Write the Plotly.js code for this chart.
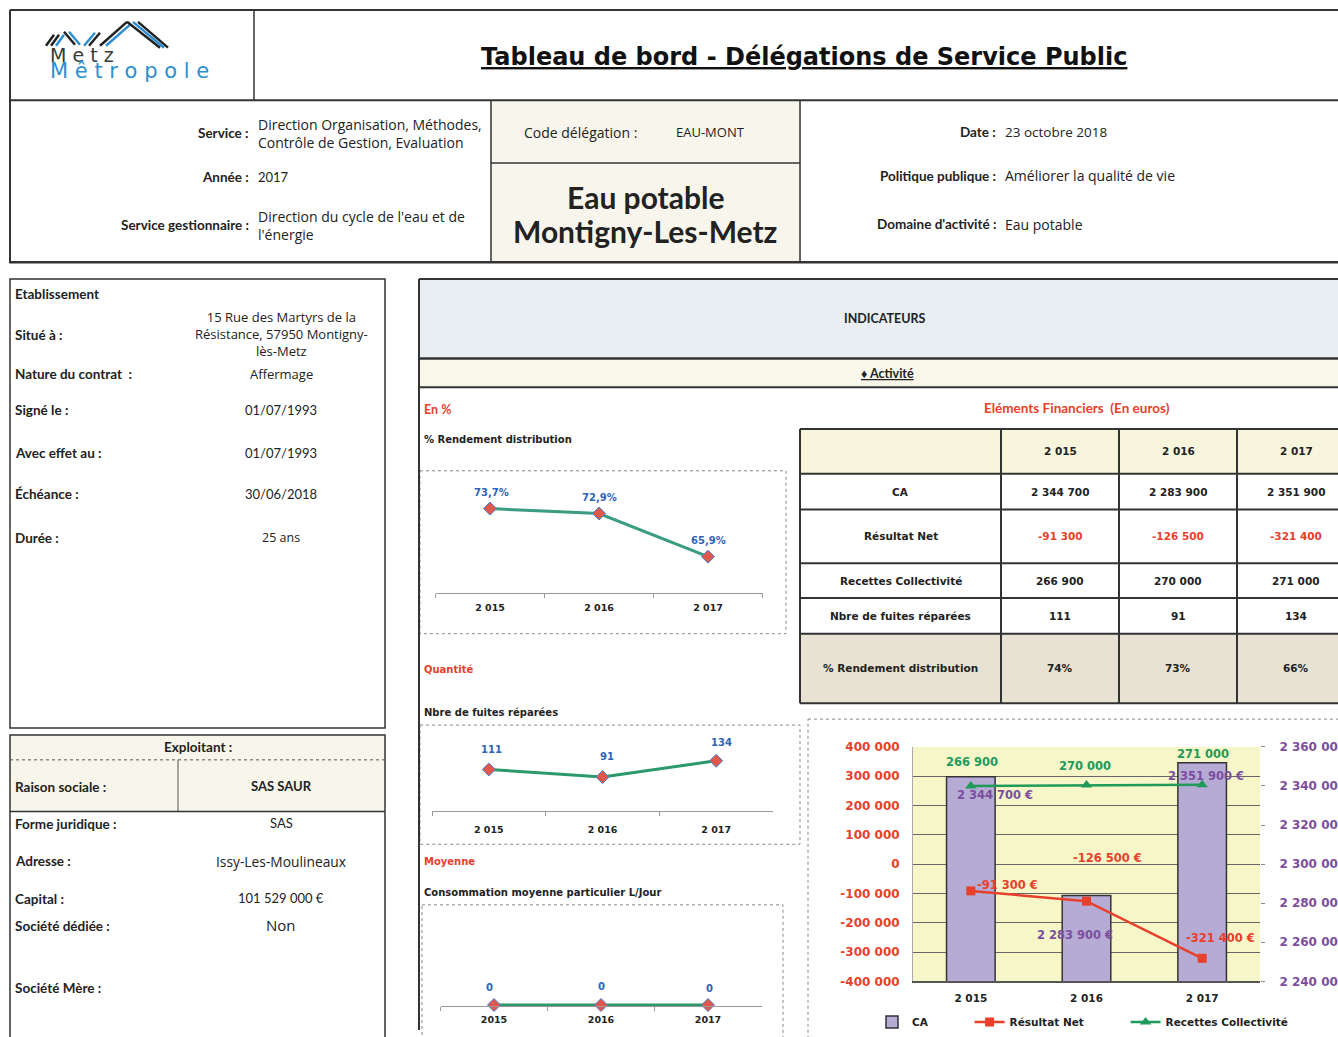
<!DOCTYPE html>
<html>
<head>
<meta charset="utf-8">
<script src="https://cdn.plot.ly/plotly-3.0.1.min.js"></script>
<style>html,body{margin:0;padding:0;background:#fff;}#page{width:1338px;height:1037px;}</style>
</head>
<body>
<div id="page"></div>
<script>
// ---------------- DATA ----------------
const years = ['2 015', '2 016', '2 017'];
const yearsPlain = ['2015', '2016', '2017'];
const rendement = [73.7, 72.9, 65.9];          // % Rendement distribution
const fuites = [111, 91, 134];                  // Nbre de fuites réparées
const conso = [0, 0, 0];                        // Consommation moyenne particulier L/Jour
const ca = [2344700, 2283900, 2351900];         // CA
const resultatNet = [-91300, -126500, -321400]; // Résultat Net
const recettes = [266900, 270000, 271000];      // Recettes Collectivité
const seriesNames = ['CA', 'Résultat Net', 'Recettes Collectivité'];
const tableRows = ['CA', 'Résultat Net', 'Recettes Collectivité', 'Nbre de fuites réparées', '% Rendement distribution'];
const leftTicks = [-400000, -300000, -200000, -100000, 0, 100000, 200000, 300000, 400000];
const rightTicks = [2240000, 2260000, 2280000, 2300000, 2320000, 2340000, 2360000];

// ---------------- HELPERS ----------------
const W = 1338, H = 1037;
const FC = 'Lato, "Open Sans", sans-serif';
const FO = '"Open Sans", Lato, sans-serif';
const FV = '"DejaVu Sans", Verdana, sans-serif';
const RED = '#e8402a', PURPLE = '#7b4ea0', GREEN = '#1f9a5a', BLUE = '#2e64b8';
const X = x => x / W, Y = y => 1 - y / H;
const fmt = n => (n < 0 ? '-' : '') + String(Math.abs(n)).replace(/\B(?=(\d{3})+(?!\d))/g, ' ');
const pct1 = v => v.toFixed(1).replace('.', ',') + '%';
const legendPad = '\u2003\u2003\u2003\u2002';

const annotations = [];
const shapes = [];
function T(x, y, text, o = {}) {
  const xa = o.xa || 'left';
  annotations.push({
    xref: 'paper', yref: 'paper', x: X(x), y: Y(y), text, showarrow: false,
    xanchor: xa, yanchor: 'middle', align: o.align || xa,
    font: { family: o.f || FC, size: o.s || 12, color: o.c || '#222' }
  });
}
function L(x0, y0, x1, y1, c = '#333', w = 1.5, dash = 'solid') {
  shapes.push({ type: 'line', xref: 'paper', yref: 'paper', x0: X(x0), y0: Y(y0), x1: X(x1), y1: Y(y1), line: { color: c, width: w, dash } });
}
function R(x0, y0, x1, y1, fill, lc, w, dash) {
  shapes.push({ type: 'rect', xref: 'paper', yref: 'paper', x0: X(x0), y0: Y(y0), x1: X(x1), y1: Y(y1), layer: 'below',
    fillcolor: fill || 'rgba(0,0,0,0)', line: { color: lc || 'rgba(0,0,0,0)', width: w || 0, dash: dash || 'solid' } });
}
const dom = (a, b) => [a / W, b / W];
const ydom = (bottom, top) => [Y(bottom), Y(top)];

// ---------------- HEADER ----------------
R(491, 101, 800, 264, '#f8f6ec');
L(10, 10, 1338, 10, '#333', 2);
L(10, 10, 10, 265, '#333', 2);
L(254, 10, 254, 101);
L(10, 101, 1338, 101, '#333', 2);
L(491, 101, 491, 264);
L(800, 101, 800, 264);
L(491, 164, 800, 164);
L(10, 264, 1338, 264, '#333', 2.5);

// logo strokes
[[46,46,54,35,'#222'],[51,46,59,35,'#222'],[56,46,64,35,'#2a8fd0'],[64,32,75,45,'#222'],[69,32,80,45,'#2a8fd0'],
 [84,46,95,33,'#2a8fd0'],[89,46,100,33,'#222'],[100,46,127,22,'#222'],[106,46,131,24,'#2a8fd0'],
 [127,22,160,48,'#222'],[133,22,164,48,'#2a8fd0'],[138,22,168,48,'#222']].forEach(s => L(s[0], s[1], s[2], s[3], s[4], 2.5));
annotations.push({ xref: 'paper', yref: 'paper', x: X(48), y: Y(64), xanchor: 'left', yanchor: 'middle', align: 'left', showarrow: false,
  text: '<span style="font-size:19px">M e t z</span><br><span style="font-size:21px;color:#2a8fd0">M ê t r o p o l e</span>',
  font: { family: FV, size: 12.5, color: '#3a3a3a' } });
T(804, 57, '<b><u>Tableau de bord - Délégations de Service Public</u></b>', { xa: 'center', f: FV, s: 24, c: '#111' });

T(251, 134, '<b>Service :</b>', { xa: 'right', s: 13.5 });
T(256, 134, 'Direction Organisation, Méthodes,<br>Contrôle de Gestion, Evaluation', { f: FO, s: 14 });
T(251, 178, '<b>Année :</b>', { xa: 'right', s: 13.5 });
T(256, 178, '2017', { s: 13 });
T(251, 227, '<b>Service gestionnaire :</b>', { xa: 'right', s: 13.5 });
T(256, 227, 'Direction du cycle de l\'eau et de<br>l\'énergie', { f: FO, s: 14 });
T(522, 133, 'Code délégation :', { f: FO, s: 14 });
T(674, 133, 'EAU-MONT', { f: FO, s: 13 });
T(645, 198, '<b>Eau potable</b>', { xa: 'center', s: 30, c: '#222' });
T(645, 233, '<b>Montigny-Les-Metz</b>', { xa: 'center', s: 30, c: '#222' });
T(998, 133, '<b>Date :</b>', { xa: 'right', s: 13.5 });
T(1003, 133, '23 octobre 2018', { f: FO, s: 13.5 });
T(998, 177, '<b>Politique publique :</b>', { xa: 'right', s: 13.5 });
T(1003, 177, 'Améliorer la qualité de vie', { f: FO, s: 14 });
T(998, 226, '<b>Domaine d\'activité :</b>', { xa: 'right', s: 13.5 });
T(1003, 226, 'Eau potable', { f: FO, s: 14 });

// ---------------- LEFT PANEL ----------------
R(10, 281, 385, 733, null, '#333', 1.5);
const lb = (y, t) => T(13, y, '<b>' + t + '</b>', { s: 13.5 });
const lv = (y, t, o) => T(281, y, t, Object.assign({ xa: 'center', f: FO, s: 13 }, o || {}));
lb(296, 'Etablissement');
lb(337, 'Situé à :'); lv(336, '15 Rue des Martyrs de la<br>Résistance, 57950 Montigny-<br>lès-Metz');
lb(377, 'Nature du contrat  :'); lv(377, 'Affermage');
lb(413, 'Signé le :'); lv(413, '01/07/1993', { f: FC, s: 13 });
lb(456, 'Avec effet au :'); lv(456, '01/07/1993', { f: FC, s: 13 });
lb(497, 'Échéance :'); lv(497, '30/06/2018', { f: FC, s: 13 });
lb(542, 'Durée :'); lv(541, '25 ans', { s: 12.5 });

R(10, 740, 385, 817, '#f8f6ea');
R(10, 740, 385, 1045, null, '#333', 1.5);
L(10, 765, 385, 765, '#555', 1, 'dot');
L(178, 765, 178, 817, '#555', 1);
L(10, 817, 385, 817, '#333', 1.5);
T(198, 752, '<b>Exploitant :</b>', { xa: 'center', s: 13.5 });
lb(792, 'Raison sociale :'); T(281, 791, '<b>SAS SAUR</b>', { xa: 'center', s: 13 });
lb(830, 'Forme juridique :'); lv(829, 'SAS', { f: FC, s: 13 });
lb(867, 'Adresse :'); lv(867, 'Issy-Les-Moulineaux', { s: 13.8 });
lb(905, 'Capital :'); lv(904, '101 529 000 €', { f: FC, s: 13 });
lb(932, 'Société dédiée :'); lv(931, 'Non', { f: FO, s: 15 });
lb(995, 'Société Mère :');

// ---------------- RIGHT PANEL ----------------
R(419, 281, 1340, 361, '#e9eef3');
R(419, 361, 1340, 390, '#f8f7ea');
L(419, 281, 1338, 281, '#333', 2);
L(419, 281, 419, 1037, '#333', 2);
L(419, 361, 1338, 361, '#333', 2.5);
L(419, 390, 1338, 390, '#333', 2);
T(885, 321, '<b>INDICATEURS</b>', { xa: 'center', s: 12.5 });
T(887, 376, '<b><u>♦ Activité</u></b>', { xa: 'center', s: 12.5 });
T(422, 412, '<b>En %</b>', { s: 12.5, c: RED });
T(1077, 411, '<b>Eléments Financiers  (En euros)</b>', { xa: 'center', s: 13.5, c: RED });
T(422, 442, '<b>% Rendement distribution</b>', { f: FV, s: 10 });
T(422, 674, '<b>Quantité</b>', { f: FV, s: 10, c: RED });
T(422, 717, '<b>Nbre de fuites réparées</b>', { f: FV, s: 10 });
T(422, 867, '<b>Moyenne</b>', { f: FV, s: 10, c: RED });
T(422, 899, '<b>Consommation moyenne particulier L/Jour</b>', { f: FV, s: 10 });

// chart frames
R(420, 474, 786, 638, null, '#888', 1, 'dot');
R(420, 730, 800, 850, null, '#888', 1, 'dot');
R(422, 911, 783, 1045, null, '#888', 1, 'dot');
R(808, 724, 1345, 1045, null, '#888', 1, 'dot');
R(913, 752, 1260, 988, '#f6f6c9');

// ---------------- TABLE ----------------
const colX = [800, 1001, 1119, 1237, 1355];
const rowY = [432, 477, 513, 567, 602, 638, 708];
R(800, 432, 1345, 477, '#f7f5dc');
R(800, 638, 1345, 708, '#e8e2d4');
rowY.forEach(y => L(800, y, 1338, y, '#333', 2));
colX.slice(0, 4).forEach(x => L(x, 432, x, 708, '#333', 2));
const cc = i => (colX[i] + colX[i + 1]) / 2;
const rc = i => (rowY[i] + rowY[i + 1]) / 2;
const TF = { f: FV, s: 10.5, xa: 'center' };
years.forEach((yr, j) => T(cc(j + 1), rc(0), '<b>' + yr + '</b>', TF));
tableRows.forEach((lab, i) => T(cc(0), rc(i + 1), '<b>' + lab + '</b>', TF));
const tableVals = [
  ca.map(fmt), resultatNet.map(fmt), recettes.map(fmt), fuites.map(String), rendement.map(v => Math.round(v) + '%')
];
tableVals.forEach((row, i) => row.forEach((v, j) =>
  T(cc(j + 1), rc(i + 1), '<b>' + v + '</b>', Object.assign({}, TF, { c: i === 1 ? RED : '#222' }))));

// ---------------- TRACES ----------------
const mk = { symbol: 'diamond', size: 10, color: '#e0584c', line: { color: '#4a7fd0', width: 1 } };
const traces = [
  { x: years, y: rendement, xaxis: 'x', yaxis: 'y', mode: 'lines+markers', line: { color: '#3a9c80', width: 3 }, marker: mk, cliponaxis: false, showlegend: false, hoverinfo: 'skip' },
  { x: years, y: fuites, xaxis: 'x2', yaxis: 'y2', mode: 'lines+markers', line: { color: '#2a9a6c', width: 3 }, marker: mk, cliponaxis: false, showlegend: false, hoverinfo: 'skip' },
  { x: yearsPlain, y: conso, xaxis: 'x3', yaxis: 'y3', mode: 'lines+markers', line: { color: '#2a9a6c', width: 3 }, marker: mk, cliponaxis: false, showlegend: false, hoverinfo: 'skip' },
  { type: 'bar', name: seriesNames[0] + legendPad, x: years, y: ca, xaxis: 'x4', yaxis: 'y4', width: 0.42, marker: { color: '#b5abd4', line: { color: '#333', width: 1.5 } }, hoverinfo: 'skip' },
  { name: seriesNames[1] + legendPad, x: years, y: resultatNet, xaxis: 'x4', yaxis: 'y5', mode: 'lines+markers', line: { color: RED, width: 2.5 }, marker: { symbol: 'square', size: 9, color: RED }, cliponaxis: false, hoverinfo: 'skip' },
  { name: seriesNames[2], x: years, y: recettes, xaxis: 'x4', yaxis: 'y5', mode: 'lines+markers', line: { color: GREEN, width: 2.5 }, marker: { symbol: 'triangle-up', size: 10, color: GREEN }, cliponaxis: false, hoverinfo: 'skip' }
];

// data labels (x given as category index)
function labels(ys, texts, xr, yr, shifts, color, size) {
  ys.forEach((v, i) => annotations.push({ xref: xr, yref: yr, x: i, y: v, text: '<b>' + texts[i] + '</b>', showarrow: false,
    xanchor: 'center', yanchor: 'middle', xshift: shifts[i][0], yshift: shifts[i][1], font: { family: FV, size, color } }));
}
labels(rendement, rendement.map(pct1), 'x', 'y', [[1, 16], [0, 16], [0, 16]], BLUE, 10);
labels(fuites, fuites.map(String), 'x2', 'y2', [[3, 20], [4, 21], [5, 18]], BLUE, 10);
labels(conso, conso.map(String), 'x3', 'y3', [[-5, 18], [0, 19], [1, 17]], BLUE, 10);
labels(ca, ca.map(v => fmt(v) + ' €'), 'x4', 'y4', [[24, -18], [-12, -39], [4, -13]], PURPLE, 11.5);
labels(resultatNet, resultatNet.map(v => fmt(v) + ' €'), 'x4', 'y5', [[37, 6], [21, 43], [18, 20]], RED, 11.5);
labels(recettes, recettes.map(fmt), 'x4', 'y5', [[1, 24], [-2, 19], [1, 31]], GREEN, 11.5);

const catAxis = (d0, d1, anchor, standoff) => ({
  domain: dom(d0, d1), anchor, type: 'category', range: [-0.5, 2.5], showgrid: false, zeroline: false,
  showline: true, linecolor: '#999', linewidth: 1, ticks: 'outside', tickson: 'boundaries', ticklen: 4, tickcolor: '#999',
  ticklabelstandoff: standoff, tickfont: { family: FV, size: 9.5, color: '#222', weight: 'bold' }, fixedrange: true
});
const hiddenY = (b, t, range, anchor) => ({ domain: ydom(b, t), range, anchor, visible: false, fixedrange: true });

const layout = {
  width: W, height: H, autosize: false, margin: { l: 0, r: 0, t: 0, b: 0, pad: 0 },
  paper_bgcolor: '#ffffff', plot_bgcolor: 'rgba(0,0,0,0)', showlegend: true, hovermode: false,
  font: { family: FC, color: '#222' },
  xaxis: catAxis(435.5, 762.5, 'y', 6),
  yaxis: hiddenY(597, 473, [60, 80], 'x'),
  xaxis2: catAxis(432, 773, 'y2', 9),
  yaxis2: hiddenY(817, 756, [0, 160], 'x2'),
  xaxis3: catAxis(440.5, 761.5, 'y3', 4),
  yaxis3: hiddenY(1013, 943, [-0.05, 3], 'x3'),
  xaxis4: {
    domain: dom(913, 1260), anchor: 'y4', type: 'category', range: [-0.5, 2.5], showgrid: false, zeroline: false,
    showline: true, linecolor: '#555', linewidth: 1.5, ticks: '', ticklabelstandoff: 7,
    tickfont: { family: FV, size: 10.5, color: '#222', weight: 'bold' }, fixedrange: true
  },
  yaxis4: {
    domain: ydom(988, 752), anchor: 'x4', side: 'right', range: [2240000, 2360000],
    tickvals: rightTicks, ticktext: rightTicks.map(fmt), showgrid: false, zeroline: false, showline: false,
    ticks: 'outside', ticklen: 4, tickcolor: '#888', ticklabelstandoff: 12,
    tickfont: { family: FV, size: 12, color: PURPLE, weight: 'bold' }, fixedrange: true
  },
  yaxis5: {
    overlaying: 'y4', anchor: 'x4', side: 'left', range: [-400000, 400000],
    tickvals: leftTicks, ticktext: leftTicks.map(fmt), showgrid: true, gridcolor: '#666', gridwidth: 1,
    zeroline: false, showline: true, linecolor: '#aaa', linewidth: 1, ticks: '', ticklabelstandoff: 10,
    tickfont: { family: FV, size: 12, color: RED, weight: 'bold' }, fixedrange: true
  },
  legend: {
    orientation: 'h', x: X(872), y: Y(1029), xanchor: 'left', yanchor: 'middle', bgcolor: 'rgba(0,0,0,0)',
    font: { family: FV, size: 10.5, color: '#222', weight: 'bold' }, traceorder: 'normal'
  },
  annotations, shapes
};

Plotly.newPlot('page', traces, layout, { displayModeBar: false, staticPlot: true });
</script>
</body>
</html>
